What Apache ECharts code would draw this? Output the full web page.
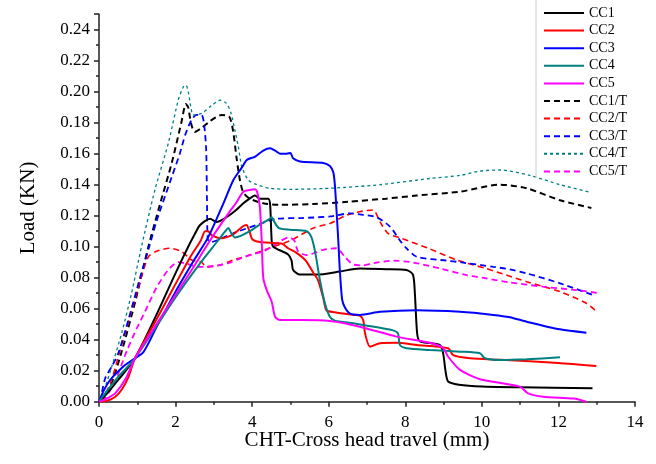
<!DOCTYPE html>
<html><head><meta charset="utf-8">
<script src="https://cdn.jsdelivr.net/npm/echarts@6/dist/echarts.min.js"></script>
<style>html,body{margin:0;padding:0;background:#fff}#c{width:656px;height:464px}</style>
</head><body><div id="c"></div>
<script>
const seriesNames = ['CC1','CC2','CC3','CC4','CC5','CC1/T','CC2/T','CC3/T','CC4/T','CC5/T'];
const xTicks = [0,2,4,6,8,10,12,14];
const yTicks = [0,0.02,0.04,0.06,0.08,0.10,0.12,0.14,0.16,0.18,0.20,0.22,0.24];

const cc1 = [[0,0],[0.2,0.005],[0.5,0.014],[0.94,0.028],[1.5,0.056],[2.0,0.083],[2.33,0.1],[2.5,0.108],[2.64,0.114],[2.9,0.118],[3.07,0.116],[3.33,0.119],[3.55,0.123],[3.77,0.128],[3.99,0.132],[4.07,0.133],[4.2,0.131],[4.42,0.131],[4.47,0.127],[4.51,0.104],[4.55,0.100],[4.94,0.095],[5.03,0.091],[5.07,0.085],[5.25,0.082],[5.68,0.082],[6.29,0.084],[6.81,0.086],[7.5,0.0855],[8.03,0.085],[8.2,0.082],[8.25,0.070],[8.31,0.044],[8.38,0.039],[8.9,0.0366],[8.99,0.031],[9.05,0.02],[9.12,0.013],[9.4,0.011],[10,0.0098],[11,0.0093],[12.89,0.0086]];
const cc2 = [[0,0],[0.2,0.0005],[0.42,0.003],[0.6,0.008],[0.77,0.016],[0.94,0.028],[1.5,0.053],[2.0,0.076],[2.4,0.094],[2.66,0.104],[2.77,0.110],[2.85,0.110],[2.94,0.1075],[3.2,0.1054],[3.38,0.1065],[3.55,0.1087],[3.75,0.113],[3.85,0.114],[3.93,0.110],[4.0,0.105],[4.2,0.103],[4.77,0.102],[4.94,0.099],[5.16,0.096],[5.4,0.091],[5.6,0.083],[5.72,0.0785],[5.86,0.0667],[5.94,0.059],[6.16,0.0577],[6.64,0.056],[6.81,0.0555],[6.9,0.0527],[6.95,0.044],[7.08,0.0355],[7.34,0.0377],[7.77,0.038],[8.3,0.0366],[9.12,0.0345],[9.25,0.030],[9.69,0.028],[10.5,0.027],[12.0,0.025],[12.99,0.023]];
const cc3 = [[0,0],[0.1,0.006],[0.29,0.014],[0.63,0.0226],[0.9,0.0274],[1.16,0.032],[1.5,0.048],[2.0,0.071],[2.5,0.092],[2.85,0.106],[3.25,0.128],[3.51,0.143],[3.73,0.151],[3.86,0.156],[4.07,0.158],[4.29,0.162],[4.47,0.1635],[4.6,0.162],[4.73,0.160],[4.9,0.160],[5.0,0.1605],[5.07,0.157],[5.25,0.155],[5.86,0.154],[6.03,0.152],[6.12,0.148],[6.16,0.140],[6.2,0.125],[6.25,0.104],[6.29,0.085],[6.35,0.066],[6.42,0.061],[6.55,0.057],[6.81,0.056],[7.34,0.058],[8.3,0.059],[9.43,0.058],[10.3,0.056],[10.73,0.0545],[11.17,0.0516],[12.04,0.0467],[12.73,0.0445]];
const cc4 = [[0,0],[0.16,0.0054],[0.5,0.016],[0.94,0.028],[1.98,0.0667],[2.6,0.088],[3.11,0.104],[3.3,0.110],[3.38,0.112],[3.45,0.109],[3.55,0.106],[3.7,0.107],[3.94,0.110],[4.12,0.113],[4.46,0.118],[4.51,0.119],[4.58,0.116],[4.7,0.112],[4.99,0.111],[5.42,0.110],[5.55,0.106],[5.65,0.096],[5.77,0.0785],[5.9,0.0635],[6.03,0.0548],[6.16,0.0523],[6.64,0.0506],[6.9,0.0495],[7.68,0.046],[7.81,0.044],[7.86,0.0366],[8.03,0.0345],[8.64,0.0334],[9.43,0.0323],[9.95,0.0312],[10.08,0.028],[10.47,0.0269],[11.17,0.0274],[12.04,0.0286]];
const cc5 = [[0,0],[0.2,0.002],[0.42,0.0054],[0.7,0.015],[0.94,0.028],[1.5,0.05],[2.0,0.069],[2.5,0.088],[2.9,0.104],[3.38,0.1215],[3.6,0.129],[3.77,0.1355],[3.94,0.1366],[4.07,0.137],[4.13,0.1355],[4.2,0.126],[4.25,0.104],[4.29,0.08],[4.38,0.072],[4.51,0.0645],[4.6,0.0548],[4.73,0.0527],[5.33,0.0527],[6.03,0.052],[6.81,0.0484],[7.77,0.042],[8.64,0.038],[8.99,0.0345],[9.12,0.029],[9.43,0.0205],[9.95,0.0145],[10.99,0.0097],[11.21,0.0054],[11.6,0.0032],[12.4,0.002],[12.73,0]];
const cc1t = [[0.05,0],[0.3,0.01],[0.6,0.033],[0.95,0.065],[1.29,0.1],[1.6,0.128],[1.9,0.154],[2.15,0.18],[2.27,0.192],[2.33,0.19],[2.4,0.18],[2.5,0.174],[2.7,0.177],[2.9,0.181],[3.2,0.185],[3.4,0.184],[3.5,0.175],[3.6,0.156],[3.68,0.143],[3.77,0.135],[3.94,0.131],[4.29,0.128],[4.7,0.127],[5.6,0.1275],[6.5,0.129],[7.5,0.131],[8.3,0.133],[9.43,0.1355],[10.47,0.140],[11.17,0.1377],[12.04,0.130],[12.86,0.125]];
const cc2t = [[0.05,0],[0.3,0.012],[0.55,0.033],[0.81,0.055],[1.03,0.074],[1.29,0.0935],[1.5,0.097],[1.85,0.099],[2.15,0.097],[2.42,0.0914],[2.68,0.090],[2.8,0.087],[3.16,0.088],[3.5,0.0914],[3.94,0.0946],[4.55,0.100],[5.0,0.104],[5.6,0.112],[6.03,0.115],[6.47,0.1204],[6.81,0.1226],[7.16,0.1237],[7.34,0.116],[7.55,0.1086],[7.9,0.1054],[8.6,0.099],[9.34,0.0914],[10.1,0.086],[10.64,0.0817],[11.17,0.0774],[12.04,0.071],[12.73,0.0635],[13.0,0.058]];
const cc3t = [[0.03,0],[0.16,0.015],[0.33,0.0226],[0.5,0.031],[0.77,0.053],[1.05,0.078],[1.3,0.099],[1.51,0.117],[1.9,0.145],[2.11,0.16],[2.25,0.172],[2.42,0.182],[2.55,0.185],[2.68,0.185],[2.75,0.178],[2.8,0.162],[2.82,0.13],[2.84,0.105],[2.9,0.103],[3.07,0.104],[3.51,0.1087],[4.12,0.114],[4.64,0.118],[5.3,0.1185],[6.03,0.1195],[6.55,0.1215],[6.9,0.1205],[7.25,0.119],[7.6,0.113],[7.86,0.104],[8.03,0.099],[8.3,0.0935],[9.08,0.091],[9.43,0.090],[10.3,0.087],[10.73,0.0854],[11.17,0.0828],[12.04,0.0764],[12.9,0.0688]];
const cc4t = [[0.03,0],[0.3,0.02],[0.6,0.045],[0.85,0.07],[1.11,0.1],[1.46,0.1366],[1.81,0.1667],[2.07,0.1946],[2.2,0.203],[2.27,0.2043],[2.33,0.2],[2.4,0.19],[2.46,0.185],[2.68,0.186],[2.94,0.191],[3.16,0.1945],[3.33,0.1925],[3.45,0.186],[3.55,0.175],[3.64,0.1645],[3.73,0.1516],[3.9,0.143],[4.07,0.1405],[4.46,0.1377],[4.99,0.137],[6.03,0.1377],[7.34,0.140],[8.64,0.144],[9.43,0.146],[9.95,0.1488],[10.47,0.1495],[11.25,0.146],[12.04,0.140],[12.86,0.135]];
const cc5t = [[0.1,0],[0.4,0.012],[0.73,0.033],[1.0,0.048],[1.2,0.058],[1.51,0.074],[1.81,0.085],[2.07,0.090],[2.3,0.089],[2.6,0.087],[2.77,0.087],[3.1,0.088],[3.4,0.0895],[3.7,0.0925],[4.0,0.095],[4.3,0.097],[4.73,0.1035],[4.95,0.106],[5.1,0.104],[5.2,0.097],[5.42,0.0946],[5.86,0.098],[6.2,0.099],[6.42,0.0935],[6.64,0.0885],[6.9,0.088],[7.16,0.0893],[7.68,0.091],[8.21,0.0898],[8.9,0.086],[9.6,0.0817],[10.0,0.080],[10.73,0.077],[11.6,0.0742],[12.47,0.072],[13.07,0.070]];

const allData = [cc1,cc2,cc3,cc4,cc5,cc1t,cc2t,cc3t,cc4t,cc5t];
const colors = ['#000000','#ff0000','#0000ff','#008080','#ff00ff','#000000','#ff0000','#0000ff','#008080','#ff00ff'];
const lineTypes = ['solid','solid','solid','solid','solid',[6,4],[6,4],[6,4],[3,3],[6,4]];
const lineWidths = [2,2,2,2,2,2,1.6,1.8,1.3,1.8];

const FONT = '"Liberation Serif","Times New Roman",serif';
const chart = echarts.init(document.getElementById('c'), null, {renderer:'canvas'});
chart.setOption({
  animation:false,
  backgroundColor:'#fff',
  grid:{left:99,right:21,top:14.2,bottom:62.3,containLabel:false},
  graphic:[{type:'line',shape:{x1:536,y1:0,x2:536,y2:178},style:{stroke:'#cccccc',lineWidth:1},z:100}],
  legend:{
    orient:'vertical',left:538,top:1,itemWidth:40,itemHeight:14,itemGap:3.6,
    itemStyle:{opacity:0},
    textStyle:{fontFamily:FONT,fontSize:14,color:'#000',lineHeight:14},
    data:seriesNames.map(n=>({name:n}))
  },
  xAxis:{
    type:'value',min:0,max:14,interval:2,
    name:'CHT-Cross head travel (mm)',nameLocation:'middle',nameGap:28,nameMoveOverlap:false,
    nameTextStyle:{fontFamily:FONT,fontSize:21,color:'#000'},
    axisLine:{show:true,lineStyle:{color:'#222',width:1.5}},
    axisTick:{show:true,inside:false,length:5,lineStyle:{color:'#222',width:1.5}},
    minorTick:{show:true,splitNumber:2,length:3,lineStyle:{color:'#222',width:1.5}},
    splitLine:{show:false},minorSplitLine:{show:false},
    axisLabel:{fontFamily:FONT,fontSize:17,color:'#000',margin:12,formatter:v=>xTicks.includes(v)?String(v):''}
  },
  yAxis:{
    type:'value',min:0,max:0.25,interval:0.02,
    name:'Load (KN)',nameLocation:'middle',nameGap:60,nameMoveOverlap:false,
    nameTextStyle:{fontFamily:FONT,fontSize:21,color:'#000'},
    axisLine:{show:true,lineStyle:{color:'#222',width:1.5}},
    axisTick:{show:true,inside:false,length:5,lineStyle:{color:'#222',width:1.5}},
    minorTick:{show:true,splitNumber:2,length:3,lineStyle:{color:'#222',width:1.5}},
    splitLine:{show:false},minorSplitLine:{show:false},
    axisLabel:{fontFamily:FONT,fontSize:17,color:'#000',margin:9,
      formatter:v=>{const m=yTicks.find(t=>Math.abs(t-v)<1e-9);return m===undefined?'':m.toFixed(2);}}
  },
  series:allData.map((d,i)=>({
    name:seriesNames[i],type:'line',data:d,symbol:'none',smooth:0.25,
    lineStyle:{color:colors[i],width:lineWidths[i],type:lineTypes[i]},
    itemStyle:{color:colors[i]},z:i<5?3:2
  }))
});
</script></body></html>
